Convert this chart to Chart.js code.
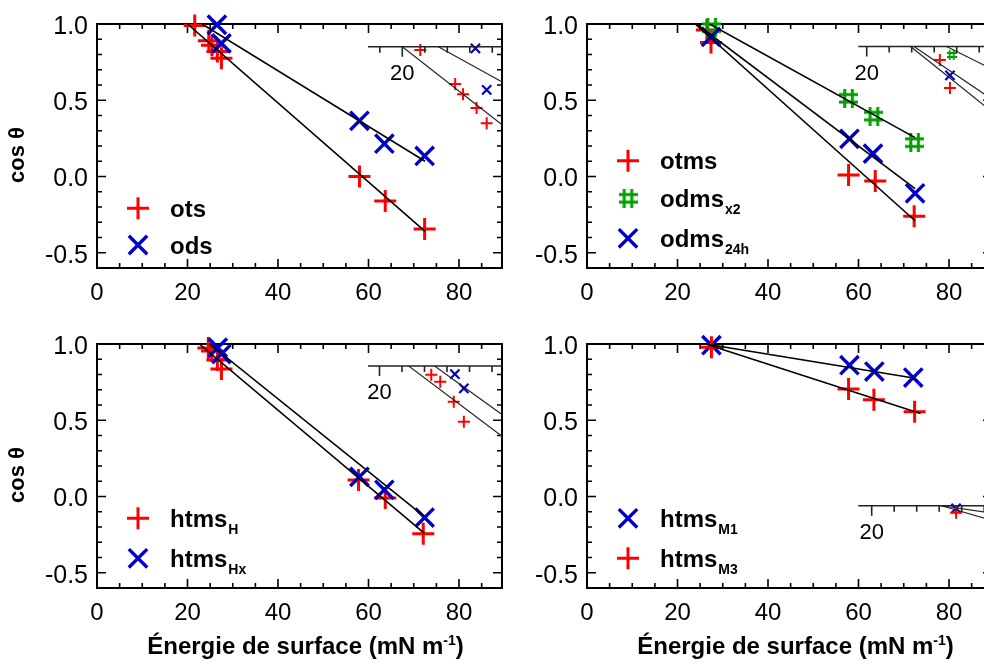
<!DOCTYPE html>
<html>
<head>
<meta charset="utf-8">
<script src="https://cdn.jsdelivr.net/npm/chart.js@4.4.1/dist/chart.umd.min.js"></script>
<style>
  html, body { margin: 0; padding: 0; background: #fff; }
  body { position: relative; width: 984px; height: 670px; overflow: hidden; }
  canvas { position: absolute; }
</style>
</head>
<body>
<canvas id="pa"></canvas>
<canvas id="pb"></canvas>
<canvas id="pc"></canvas>
<canvas id="pd"></canvas>
<canvas id="ia"></canvas>
<canvas id="ib"></canvas>
<canvas id="ic"></canvas>
<canvas id="id"></canvas>
<script>
const X_TICKS = [0, 20, 40, 60, 80];
const Y_TICKS = [-0.5, 0.0, 0.5, 1.0];
const INSET_LABEL = 20;

// panel a : ots / ods
const otsX = [21.6, 24.7, 25.4, 26.6, 27.5, 58.0, 63.7, 72.4];
const otsY = [0.99, 0.89, 0.86, 0.82, 0.775, 0.0, -0.16, -0.345];
const odsX = [26.5, 27.5, 58.0, 63.5, 72.4];
const odsY = [0.995, 0.873, 0.365, 0.215, 0.135];
const otsFitX = [20.0, 72.5];
const otsFitY = [1.0, -0.36];
const odsFitX = [23.2, 72.5];
const odsFitY = [1.0, 0.10];

// panel b : otms / odms x2 / odms 24h
const otmsX = [26.5, 27.4, 57.8, 63.7, 72.3];
const otmsY = [0.96, 0.878, 0.01, -0.03, -0.26];
const odmsX2X = [27.55, 57.8, 63.4, 72.4];
const odmsX2Y = [0.975, 0.513, 0.396, 0.222];
const odms24X = [27.4, 58.0, 63.2, 72.5];
const odms24Y = [0.915, 0.247, 0.15, -0.11];
const otmsFitX = [23.9, 72.5];
const otmsFitY = [1.0, -0.29];
const odms24FitX = [24.2, 72.5];
const odms24FitY = [1.0, -0.08];
const odmsX2FitX = [27.1, 72.5];
const odmsX2FitY = [1.0, 0.255];

// panel c : htms H / htms Hx
const htmsHX = [24.6, 25.4, 26.6, 27.5, 57.8, 63.7, 72.1];
const htmsHY = [0.974, 0.954, 0.895, 0.836, 0.108, -0.01, -0.244];
const htmsHxX = [26.7, 27.5, 58.0, 63.5, 72.4];
const htmsHxY = [0.976, 0.934, 0.129, 0.044, -0.138];
const htmsHFitX = [22.6, 72.3];
const htmsHFitY = [1.0, -0.24];
const htmsHxFitX = [24.9, 72.3];
const htmsHxFitY = [1.0, -0.13];

// panel d : htms M1 / htms M3
const htmsM1X = [27.5, 58.0, 63.5, 72.1];
const htmsM1Y = [0.992, 0.861, 0.819, 0.78];
const htmsM3X = [27.5, 57.8, 63.4, 72.4];
const htmsM3Y = [0.979, 0.705, 0.635, 0.556];
const htmsM1FitX = [26.2, 72.5];
const htmsM1FitY = [1.0, 0.775];
const htmsM3FitX = [26.2, 73.7];
const htmsM3FitY = [1.0, 0.545];

const RED = '#ff0000';
const BLUE = '#0000cc';
const GREEN = '#00a000';
const FONT = "'Liberation Sans', Arial, sans-serif";

function pts(xs, ys) {
  return xs.map((x, i) => ({ x, y: ys[i] }));
}

function hashImage(size, lw, color) {
  const c = document.createElement('canvas');
  c.width = size; c.height = size;
  const g = c.getContext('2d');
  g.strokeStyle = color;
  g.lineWidth = lw;
  const a = size * 0.3, b = size * 0.7;
  g.beginPath();
  g.moveTo(a, 0); g.lineTo(a, size);
  g.moveTo(b, 0); g.lineTo(b, size);
  g.moveTo(0, a); g.lineTo(size, a);
  g.moveTo(0, b); g.lineTo(size, b);
  g.stroke();
  return c;
}

const HASH_BIG = hashImage(19, 3, GREEN);
const HASH_SMALL = hashImage(10, 1.8, GREEN);

const MARK = {
  plus: { big: { style: 'cross', r: 11, w: 3 }, small: { style: 'cross', r: 6, w: 2 } },
  x: { big: { style: 'crossRot', r: 13, w: 3.4 }, small: { style: 'crossRot', r: 6.5, w: 2.2 } },
  hash: { big: { style: HASH_BIG, r: 10, w: 0 }, small: { style: HASH_SMALL, r: 5, w: 0 } },
};

function markers(xs, ys, kind, color, small) {
  const m = MARK[kind][small ? 'small' : 'big'];
  return {
    data: pts(xs, ys),
    showLine: false,
    pointStyle: m.style,
    pointRadius: m.r,
    pointBorderWidth: m.w,
    pointBorderColor: color,
    pointBackgroundColor: color,
    clip: small ? { left: 8, right: 0, top: 10, bottom: 8 } : false,
  };
}

function fitLine(xs, ys, small) {
  return {
    data: pts(xs, ys),
    showLine: true,
    pointRadius: 0,
    borderColor: small ? '#222' : '#000',
    borderWidth: small ? 1.1 : 1.6,
    fill: false,
  };
}

// frame with inward ticks on the four sides
const frameTicks = {
  id: 'frameTicks',
  beforeDatasetsDraw(chart) {
    const { ctx, chartArea: a, scales: { x, y } } = chart;
    ctx.save();
    ctx.strokeStyle = '#000';
    ctx.lineWidth = 1.6;
    ctx.beginPath();
    for (let v = 0; v <= x.max; v += 5) {
      const px = x.getPixelForValue(v);
      const len = v % 20 === 0 ? 9 : 5;
      ctx.moveTo(px, a.bottom); ctx.lineTo(px, a.bottom - len);
      ctx.moveTo(px, a.top); ctx.lineTo(px, a.top + len);
    }
    for (let i = -6; i <= 10; i++) {
      const py = y.getPixelForValue(i / 10);
      const len = i % 5 === 0 ? 9 : 5;
      ctx.moveTo(a.left, py); ctx.lineTo(a.left + len, py);
      ctx.moveTo(a.right, py); ctx.lineTo(a.right - len, py);
    }
    ctx.stroke();
    ctx.lineWidth = 2;
    ctx.strokeRect(a.left, a.top, a.right - a.left, a.bottom - a.top);
    ctx.restore();
  },
};

// legend with subscripts, y title, x title with superscript
const panelText = {
  id: 'panelText',
  afterDraw(chart, args, opts) {
    const { ctx, chartArea: a } = chart;
    ctx.save();
    ctx.fillStyle = '#000';
    (opts.rows || []).forEach((row) => {
      const m = MARK[row.kind].big;
      const cy = a.top + row.dy;
      ctx.strokeStyle = row.color;
      ctx.fillStyle = row.color;
      ctx.lineWidth = m.w;
      Chart.helpers.drawPoint(ctx, { pointStyle: m.style, radius: m.r, rotation: 0, borderWidth: m.w }, a.left + 41, cy);
      ctx.fillStyle = '#000';
      ctx.textBaseline = 'alphabetic';
      ctx.textAlign = 'left';
      ctx.font = 'bold 24px ' + FONT;
      const tx = a.left + 73;
      ctx.fillText(row.label, tx, cy + 8.5);
      if (row.sub) {
        const w = ctx.measureText(row.label).width;
        ctx.font = 'bold 14px ' + FONT;
        ctx.fillText(row.sub, tx + w + 1, cy + 16);
      }
    });
    if (opts.yTitle) {
      ctx.save();
      ctx.translate(18, a.top + 131);
      ctx.rotate(-Math.PI / 2);
      ctx.font = 'bold 22px ' + FONT;
      ctx.textAlign = 'center';
      ctx.textBaseline = 'middle';
      ctx.fillText(opts.yTitle, 0, 0);
      ctx.restore();
    }
    if (opts.xTitle) {
      const [pre, sup, post] = opts.xTitle;
      ctx.textBaseline = 'alphabetic';
      ctx.textAlign = 'left';
      ctx.font = 'bold 24px ' + FONT;
      const w1 = ctx.measureText(pre).width;
      const w3 = ctx.measureText(post).width;
      ctx.font = 'bold 14px ' + FONT;
      const w2 = ctx.measureText(sup).width;
      const cx = (a.left + a.right) / 2 + 6;
      const x0 = cx - (w1 + w2 + w3) / 2;
      const base = a.bottom + 66;
      ctx.font = 'bold 24px ' + FONT;
      ctx.fillText(pre, x0, base);
      ctx.font = 'bold 14px ' + FONT;
      ctx.fillText(sup, x0 + w1, base - 9);
      ctx.font = 'bold 24px ' + FONT;
      ctx.fillText(post, x0 + w1 + w2, base);
    }
    ctx.restore();
  },
};

function makePanel(id, left, top, height, datasets, text) {
  const canvas = document.getElementById(id);
  canvas.width = 520; canvas.height = height;
  canvas.style.width = '520px'; canvas.style.height = height + 'px';
  canvas.style.left = left + 'px'; canvas.style.top = top + 'px';
  return new Chart(canvas, {
    type: 'scatter',
    data: { datasets },
    plugins: [frameTicks, panelText],
    options: {
      responsive: false,
      animation: false,
      events: [],
      layout: { padding: { left: 0, top: 19, right: 18, bottom: height - 268 - 40 } },
      plugins: { legend: { display: false }, tooltip: { enabled: false }, panelText: text },
      scales: {
        x: {
          type: 'linear', min: 0, max: 89.5,
          grid: { display: false, drawTicks: false }, border: { display: false },
          afterBuildTicks: (s) => { s.ticks = X_TICKS.map((v) => ({ value: v })); },
          afterFit: (s) => { s.height = 40; },
          ticks: { padding: 11, color: '#000', font: { family: FONT, size: 24, lineHeight: 1.2 },
            callback: (v) => String(v), maxRotation: 0 },
        },
        y: {
          type: 'linear', min: -0.6, max: 1.0,
          grid: { display: false, drawTicks: false }, border: { display: false },
          afterBuildTicks: (s) => { s.ticks = Y_TICKS.map((v) => ({ value: v })); },
          afterFit: (s) => { s.width = 97; },
          ticks: { padding: 9, labelOffset: 3, color: '#000', font: { family: FONT, size: 25, lineHeight: 1.2 },
            callback: (v) => v.toFixed(1) },
        },
      },
    },
  });
}

// inset: magnified top-left corner, axis line on top with ticks pointing down
const insetAxis = {
  id: 'insetAxis',
  afterDraw(chart) {
    const { ctx, chartArea: a, scales: { x } } = chart;
    ctx.save();
    ctx.strokeStyle = '#222';
    ctx.lineWidth = 1.6;
    ctx.beginPath();
    ctx.moveTo(a.left, a.top); ctx.lineTo(a.right, a.top);
    for (let v = Math.ceil(x.min / 2) * 2; v <= x.max; v += 2) {
      const px = x.getPixelForValue(v);
      const len = v === INSET_LABEL ? 10 : 6;
      ctx.moveTo(px, a.top); ctx.lineTo(px, a.top + len);
    }
    ctx.stroke();
    ctx.fillStyle = '#000';
    ctx.font = '22px ' + FONT;
    ctx.textAlign = 'center';
    ctx.textBaseline = 'middle';
    ctx.fillText(String(INSET_LABEL), x.getPixelForValue(INSET_LABEL), a.top + 27);
    ctx.restore();
  },
};

function makeInset(id, spec, datasets) {
  const pxX = 11.25, pxY = 340, h = 100, m = 15;
  const cl = Math.floor(spec.left) - m;
  const ct = Math.floor(spec.axisY) - m;
  const w = Math.ceil(spec.right - cl) + m;
  const canvas = document.getElementById(id);
  canvas.width = w; canvas.height = h + 2 * m + 2;
  canvas.style.width = w + 'px'; canvas.style.height = (h + 2 * m + 2) + 'px';
  canvas.style.left = cl + 'px'; canvas.style.top = ct + 'px';
  const padLeft = spec.left - cl;
  const padTop = spec.axisY - ct;
  return new Chart(canvas, {
    type: 'scatter',
    data: { datasets },
    plugins: [insetAxis],
    options: {
      responsive: false,
      animation: false,
      events: [],
      layout: { padding: { left: padLeft, top: padTop, right: w - padLeft - (spec.right - spec.left), bottom: canvas.height - padTop - h } },
      plugins: { legend: { display: false }, tooltip: { enabled: false } },
      scales: {
        x: { type: 'linear', display: false,
          min: INSET_LABEL + (spec.left - spec.x20) / pxX,
          max: INSET_LABEL + (spec.right - spec.x20) / pxX },
        y: { type: 'linear', display: false, min: 1.0 - h / pxY, max: 1.0 },
      },
    },
  });
}

const Y_TITLE = 'cos θ';
const X_TITLE = ['Énergie de surface (mN m', '-1', ')'];

makePanel('pa', 0, 0, 320, [
  fitLine(otsFitX, otsFitY), fitLine(odsFitX, odsFitY),
  markers(odsX, odsY, 'x', BLUE), markers(otsX, otsY, 'plus', RED),
], { yTitle: Y_TITLE, rows: [
  { kind: 'plus', color: RED, label: 'ots', dy: 184.3 },
  { kind: 'x', color: BLUE, label: 'ods', dy: 221 },
] });

makePanel('pb', 490, 0, 320, [
  fitLine(otmsFitX, otmsFitY), fitLine(odms24FitX, odms24FitY), fitLine(odmsX2FitX, odmsX2FitY),
  markers(odms24X, odms24Y, 'x', BLUE), markers(odmsX2X, odmsX2Y, 'hash', GREEN), markers(otmsX, otmsY, 'plus', RED),
], { rows: [
  { kind: 'plus', color: RED, label: 'otms', dy: 136.7 },
  { kind: 'hash', color: GREEN, label: 'odms', sub: 'x2', dy: 174.3 },
  { kind: 'x', color: BLUE, label: 'odms', sub: '24h', dy: 214.3 },
] });

makePanel('pc', 0, 320, 350, [
  fitLine(htmsHFitX, htmsHFitY), fitLine(htmsHxFitX, htmsHxFitY),
  markers(htmsHxX, htmsHxY, 'x', BLUE), markers(htmsHX, htmsHY, 'plus', RED),
], { yTitle: Y_TITLE, xTitle: X_TITLE, rows: [
  { kind: 'plus', color: RED, label: 'htms', sub: 'H', dy: 174.3 },
  { kind: 'x', color: BLUE, label: 'htms', sub: 'Hx', dy: 214.3 },
] });

makePanel('pd', 490, 320, 350, [
  fitLine(htmsM1FitX, htmsM1FitY), fitLine(htmsM3FitX, htmsM3FitY),
  markers(htmsM3X, htmsM3Y, 'plus', RED), markers(htmsM1X, htmsM1Y, 'x', BLUE),
], { xTitle: X_TITLE, rows: [
  { kind: 'x', color: BLUE, label: 'htms', sub: 'M1', dy: 174.3 },
  { kind: 'plus', color: RED, label: 'htms', sub: 'M3', dy: 214.3 },
] });

makeInset('ia', { left: 368, right: 502, axisY: 46.7, x20: 402.3 }, [
  fitLine(otsFitX, otsFitY, true), fitLine(odsFitX, odsFitY, true),
  markers(odsX, odsY, 'x', BLUE, true), markers(otsX, otsY, 'plus', RED, true),
]);

makeInset('ib', { left: 858.3, right: 992, axisY: 46.5, x20: 866.7 }, [
  fitLine(otmsFitX, otmsFitY, true), fitLine(odms24FitX, odms24FitY, true), fitLine(odmsX2FitX, odmsX2FitY, true),
  markers(odms24X, odms24Y, 'x', BLUE, true), markers(odmsX2X, odmsX2Y, 'hash', GREEN, true), markers(otmsX, otmsY, 'plus', RED, true),
]);

makeInset('ic', { left: 368, right: 502, axisY: 366, x20: 379.5 }, [
  fitLine(htmsHFitX, htmsHFitY, true), fitLine(htmsHxFitX, htmsHxFitY, true),
  markers(htmsHxX, htmsHxY, 'x', BLUE, true), markers(htmsHX, htmsHY, 'plus', RED, true),
]);

makeInset('id', { left: 858.3, right: 992, axisY: 505.7, x20: 871.7 }, [
  fitLine(htmsM1FitX, htmsM1FitY, true), fitLine(htmsM3FitX, htmsM3FitY, true),
  markers(htmsM3X, htmsM3Y, 'plus', RED, true), markers(htmsM1X, htmsM1Y, 'x', BLUE, true),
]);
</script>
</body>
</html>
